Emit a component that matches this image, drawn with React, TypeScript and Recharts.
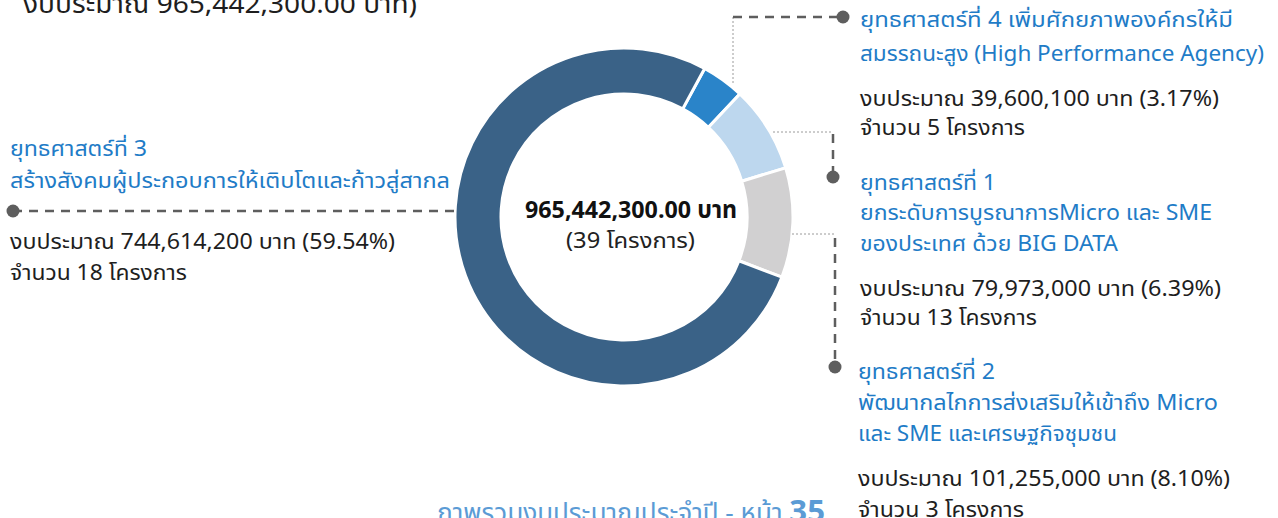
import React from 'react';
import { PieChart, Pie, Cell } from 'recharts';

// ---- data ----
const strategyNames = ['ยุทธศาสตร์ที่ 4', 'ยุทธศาสตร์ที่ 1', 'ยุทธศาสตร์ที่ 2', 'ยุทธศาสตร์ที่ 3'];
const budgets = [39600100, 79973000, 101255000, 744614200];
const sliceColors = ['#2A84C9', '#BDD7EE', '#D1D0D1', '#3A6287'];

const totalText = '965,442,300.00 บาท';
const totalProjects = '(39 โครงการ)';
const topCutText = 'งบประมาณ 965,442,300.00 บาท)';
const footerText = 'ภาพรวมงบประมาณประจำปี - หน้า ';
const footerPage = '35';

const s4Lines = ['ยุทธศาสตร์ที่ 4 เพิ่มศักยภาพองค์กรให้มี', 'สมรรถนะสูง (High Performance Agency)'];
const s4Info = ['งบประมาณ 39,600,100 บาท (3.17%)', 'จำนวน 5 โครงการ'];
const s1Lines = ['ยุทธศาสตร์ที่ 1', 'ยกระดับการบูรณาการMicro และ SME', 'ของประเทศ ด้วย BIG DATA'];
const s1Info = ['งบประมาณ 79,973,000 บาท (6.39%)', 'จำนวน 13 โครงการ'];
const s2Lines = ['ยุทธศาสตร์ที่ 2', 'พัฒนากลไกการส่งเสริมให้เข้าถึง Micro', 'และ SME และเศรษฐกิจชุมชน'];
const s2Info = ['งบประมาณ 101,255,000 บาท (8.10%)', 'จำนวน 3 โครงการ'];
const s3Lines = ['ยุทธศาสตร์ที่ 3', 'สร้างสังคมผู้ประกอบการให้เติบโตและก้าวสู่สากล'];
const s3Info = ['งบประมาณ 744,614,200 บาท (59.54%)', 'จำนวน 18 โครงการ'];

const pieData = strategyNames.map((name, i) => ({ name, value: budgets[i] }));

// ---- style / layout ----
const W = 1278;
const H = 518;
const CX = 624;
const CY = 217;
const FONT = "'Noto Sans Thai', 'Noto Sans', 'DejaVu Sans', sans-serif";
const BLUE = '#1F7CC7';
const DARK = '#1E1E1E';
const LINE = '#5E5E5E';
const FS = 21;

type TProps = { x: number; y: number; w?: number; size?: number; fill?: string; weight?: number | string; anchor?: 'start' | 'middle' | 'end'; children: React.ReactNode };
const T = ({ x, y, w, size = FS, fill = DARK, weight = 400, anchor = 'start', children }: TProps) => (
  <text
    x={x}
    y={y}
    fontSize={size}
    fill={fill}
    fontWeight={weight}
    fontFamily={FONT}
    textAnchor={anchor}
    {...(w ? { textLength: w, lengthAdjust: 'spacingAndGlyphs' } : {})}
  >
    {children}
  </text>
);

const Dot = ({ x, y }: { x: number; y: number }) => <circle cx={x} cy={y} r={6.5} fill={LINE} />;
const Dashed = ({ x1, y1, x2, y2 }: { x1: number; y1: number; x2: number; y2: number }) => (
  <line x1={x1} y1={y1} x2={x2} y2={y2} stroke={LINE} strokeWidth={2.5} strokeDasharray="9 7" />
);
const Dotted = ({ x1, y1, x2, y2 }: { x1: number; y1: number; x2: number; y2: number }) => (
  <line x1={x1} y1={y1} x2={x2} y2={y2} stroke="#9A9A9A" strokeWidth={1} strokeDasharray="2 2" />
);

export default function App() {
  return (
    <div style={{ position: 'absolute', left: 0, top: 0, width: W, height: H, background: '#fff', overflow: 'hidden' }}>
      <div style={{ position: 'absolute', left: 0, top: 0 }}>
        <PieChart width={W} height={H} margin={{ top: 0, right: 0, bottom: 0, left: 0 }}>
          <Pie
            data={pieData}
            dataKey="value"
            nameKey="name"
            cx={CX}
            cy={CY}
            innerRadius={123}
            outerRadius={169}
            startAngle={61.5}
            endAngle={-298.5}
            stroke="#ffffff"
            strokeWidth={3}
            isAnimationActive={false}
          >
            {pieData.map((d, i) => (
              <Cell key={d.name} fill={sliceColors[i]} />
            ))}
          </Pie>
        </PieChart>
      </div>
      <svg width={W} height={H} style={{ position: 'absolute', left: 0, top: 0, pointerEvents: 'none' }}>
        {/* top cut-off text */}
        <T x={23} y={13} w={394} size={26}>{topCutText}</T>

        {/* center */}
        <T x={631} y={218} w={212} size={24} weight={700} anchor="middle" fill="#111">{totalText}</T>
        <T x={630.5} y={248} w={129} size={21} anchor="middle" fill="#222">{totalProjects}</T>

        {/* strategy 3 (left) */}
        <Dashed x1={13} y1={211} x2={456} y2={211} />
        <Dot x={13} y={211} />
        <T x={10} y={156} w={137} fill={BLUE}>{s3Lines[0]}</T>
        <T x={10} y={188} w={440} fill={BLUE}>{s3Lines[1]}</T>
        <T x={10} y={249} w={385}>{s3Info[0]}</T>
        <T x={10} y={280} w={177}>{s3Info[1]}</T>

        {/* strategy 4 (top right) */}
        <Dotted x1={733} y1={17} x2={733} y2={84} />
        <Dashed x1={733} y1={17} x2={843} y2={17} />
        <Dot x={843} y={17} />
        <T x={860} y={27} w={373} fill={BLUE}>{s4Lines[0]}</T>
        <T x={860} y={61} w={404} fill={BLUE}>{s4Lines[1]}</T>
        <T x={860} y={106} w={359}>{s4Info[0]}</T>
        <T x={860} y={135} w={165}>{s4Info[1]}</T>

        {/* strategy 1 */}
        <Dotted x1={773} y1={132} x2={833} y2={132} />
        <Dashed x1={833} y1={134} x2={833} y2={177} />
        <Dot x={833} y={177} />
        <T x={860} y={190} w={136} fill={BLUE}>{s1Lines[0]}</T>
        <T x={860} y={220} w={352} fill={BLUE}>{s1Lines[1]}</T>
        <T x={860} y={251} w={258} fill={BLUE}>{s1Lines[2]}</T>
        <T x={860} y={296} w={361}>{s1Info[0]}</T>
        <T x={860} y={325} w={177}>{s1Info[1]}</T>

        {/* strategy 2 */}
        <Dotted x1={792} y1={234} x2={835} y2={234} />
        <Dashed x1={835} y1={238} x2={835} y2={367} />
        <Dot x={835} y={367} />
        <T x={858} y={379} w={137} fill={BLUE}>{s2Lines[0]}</T>
        <T x={858} y={410} w={360} fill={BLUE}>{s2Lines[1]}</T>
        <T x={858} y={441} w={259} fill={BLUE}>{s2Lines[2]}</T>
        <T x={858} y={486} w={372}>{s2Info[0]}</T>
        <T x={858} y={517} w={166}>{s2Info[1]}</T>

        {/* footer */}
        <text
          x={437}
          y={522}
          fontFamily={FONT}
          fill="#5B9BD5"
          fontSize={26}
          textLength={388}
          lengthAdjust="spacingAndGlyphs"
        >
          {footerText}
          <tspan fontSize={31} fontWeight={700}>{footerPage}</tspan>
        </text>
      </svg>
    </div>
  );
}
